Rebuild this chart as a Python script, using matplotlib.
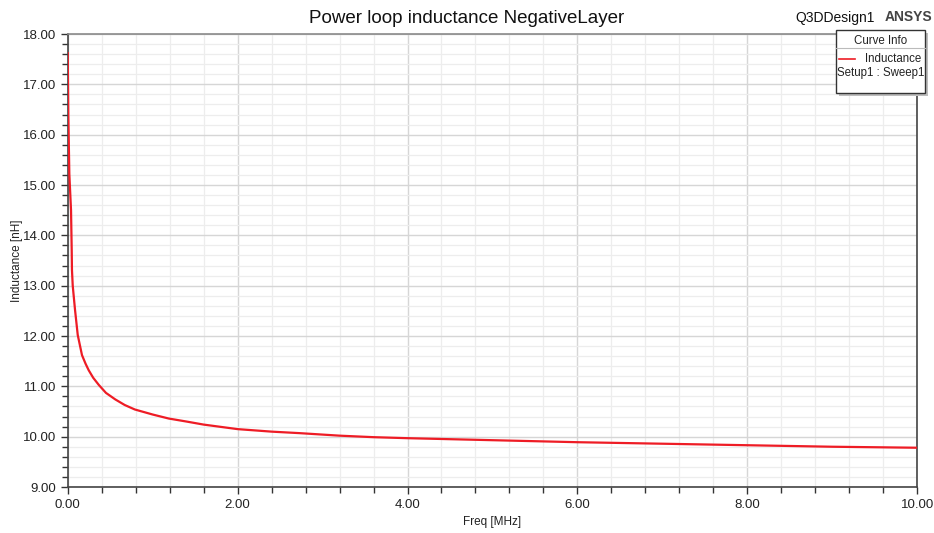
import matplotlib.pyplot as plt
from matplotlib.ticker import MultipleLocator, FormatStrFormatter
from matplotlib.patches import Rectangle
from matplotlib.lines import Line2D

plt.rcParams['font.family'] = ['Liberation Sans', 'DejaVu Sans']

# sweep data
freq = [0.0, 0.007, 0.019, 0.039, 0.047, 0.05, 0.059, 0.086, 0.118, 0.168,
        0.21, 0.247, 0.30, 0.365, 0.45, 0.56, 0.67, 0.79, 1.0, 1.19, 1.4, 1.6,
        2.0, 2.4, 2.73, 3.2, 3.6, 4.0, 5.0, 6.0, 7.0, 8.0, 9.0, 10.0]
inductance = [17.62, 16.40, 15.22, 14.50, 13.71, 13.31, 13.00, 12.52, 12.02, 11.62,
              11.45, 11.32, 11.17, 11.03, 10.87, 10.74, 10.63, 10.54, 10.44, 10.36,
              10.30, 10.24, 10.15, 10.10, 10.07, 10.02, 9.99, 9.97, 9.93, 9.89,
              9.86, 9.83, 9.80, 9.78]

title = 'Power loop inductance NegativeLayer'
xlabel = 'Freq [MHz]'
ylabel = 'Inductance [nH]'

fig = plt.figure(figsize=(9.34, 5.33), dpi=100)
ax = fig.add_axes([0.0725, 0.0863, 0.9095, 0.8499])

ax.plot(freq, inductance, color='#ee1c25', lw=1.6, zorder=3)

ax.set_xlim(0, 10)
ax.set_ylim(9, 18)
ax.xaxis.set_major_locator(MultipleLocator(2))
ax.xaxis.set_minor_locator(MultipleLocator(0.4))
ax.yaxis.set_major_locator(MultipleLocator(1))
ax.yaxis.set_minor_locator(MultipleLocator(0.2))
ax.xaxis.set_major_formatter(FormatStrFormatter('%.2f'))
ax.yaxis.set_major_formatter(FormatStrFormatter('%.2f'))

ax.grid(which='major', color='#d6d6d6', lw=1.0, zorder=0)
ax.grid(which='minor', color='#ededed', lw=0.9, zorder=0)
ax.tick_params(which='both', direction='out', color='#333333', labelsize=9.5,
               labelcolor='#222222')
ax.tick_params(which='major', length=5, width=1)
ax.tick_params(which='minor', length=4, width=1)

for s in ['left', 'bottom', 'right']:
    ax.spines[s].set_color('#444444')
    ax.spines[s].set_linewidth(1.2)
ax.spines['top'].set_color('#8a8a8a')
ax.spines['top'].set_linewidth(1.2)

ax.set_xlabel(xlabel, fontsize=8.5, color='#222222', labelpad=4)
ax.set_ylabel(ylabel, fontsize=8.5, color='#222222', labelpad=0)

fig.text(0.5, 0.966, title, ha='center', va='center', fontsize=13.5, color='#111111')
fig.text(0.937, 0.966, 'Q3DDesign1', ha='right', va='center', fontsize=10, color='#111111')
fig.text(0.998, 0.968, 'ANSYS', ha='right', va='center', fontsize=10, fontweight='bold',
         color='#444444')

# curve info box
bx0, by0, bw, bh = 836 / 934, 1 - 93 / 533, 89 / 934, 63 / 533
fig.patches.append(Rectangle((bx0 + 3 / 934, by0 - 3 / 533), bw, bh, transform=fig.transFigure,
                             facecolor='#bdbdbd', edgecolor='none', zorder=5))
fig.patches.append(Rectangle((bx0, by0), bw, bh, transform=fig.transFigure,
                             facecolor='white', edgecolor='#333333', lw=1.0, zorder=6))
fig.lines.append(Line2D([bx0, bx0 + bw], [1 - 48 / 533] * 2, transform=fig.transFigure,
                        color='#bbbbbb', lw=0.8, zorder=7))
fig.lines.append(Line2D([839 / 934, 855 / 934], [1 - 59 / 533] * 2, transform=fig.transFigure,
                        color='#ee1c25', lw=1.2, zorder=7))
fig.text(bx0 + bw / 2, 1 - 41 / 533, 'Curve Info', ha='center', va='center', fontsize=8.3,
         color='#222222', zorder=7)
fig.text(921 / 934, 1 - 59 / 533, 'Inductance', ha='right', va='center', fontsize=8.3,
         color='#222222', zorder=7)
fig.text(bx0 + bw / 2, 1 - 73 / 533, 'Setup1 : Sweep1', ha='center', va='center', fontsize=8.3,
         color='#222222', zorder=7)

fig.savefig('out.png', dpi=100)
